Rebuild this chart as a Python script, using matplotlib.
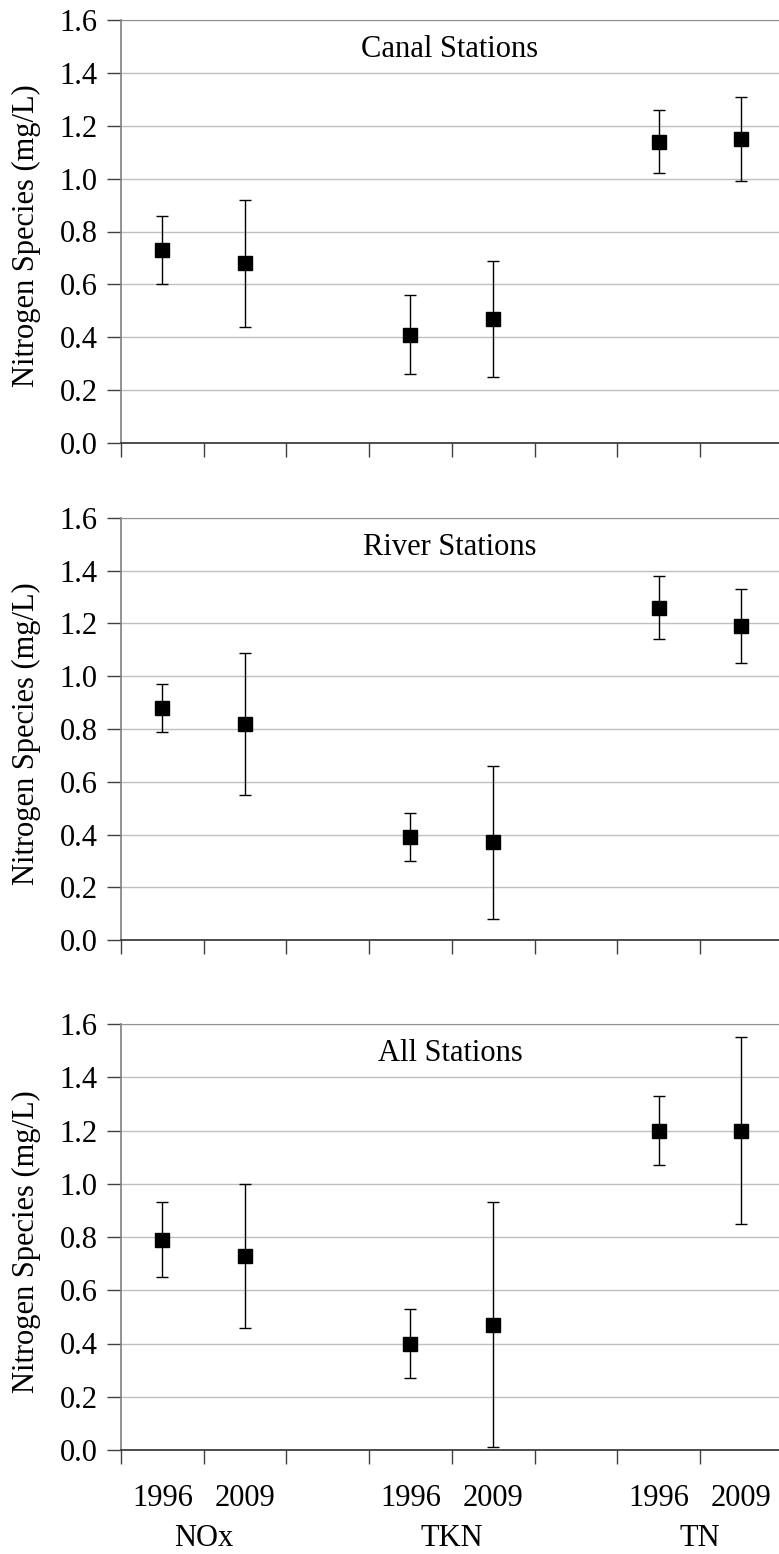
import matplotlib
matplotlib.use("Agg")
import matplotlib.pyplot as plt
import matplotlib.transforms as mtransforms
import numpy as np

plt.rcParams['font.family'] = ['Liberation Serif', 'DejaVu Serif']

# Data
species = ["NOx", "TKN", "TN"]
years = ["1996", "2009"]
panel_titles = ["Canal Stations", "River Stations", "All Stations"]
x_positions = [0.5, 1.5, 3.5, 4.5, 6.5, 7.5]

canal_mean = [0.73, 0.68, 0.41, 0.47, 1.14, 1.15]
canal_low = [0.60, 0.44, 0.26, 0.25, 1.02, 0.99]
canal_high = [0.86, 0.92, 0.56, 0.69, 1.26, 1.31]

river_mean = [0.88, 0.82, 0.39, 0.37, 1.26, 1.19]
river_low = [0.79, 0.55, 0.30, 0.08, 1.14, 1.05]
river_high = [0.97, 1.09, 0.48, 0.66, 1.38, 1.33]

all_mean = [0.79, 0.73, 0.40, 0.47, 1.20, 1.20]
all_low = [0.65, 0.46, 0.27, 0.01, 1.07, 0.85]
all_high = [0.93, 1.00, 0.53, 0.93, 1.33, 1.55]

yticks = [0.0, 0.2, 0.4, 0.6, 0.8, 1.0, 1.2, 1.4, 1.6]
ylabel = "Nitrogen Species (mg/L)"

panels = [
    (canal_mean, canal_low, canal_high),
    (river_mean, river_low, river_high),
    (all_mean, all_low, all_high),
]

FS = 22
W, H = 779, 1554
fig = plt.figure(figsize=(W / 100, H / 100), dpi=100)

# pixel geometry: (top_px, bottom_px)
geoms = [(20, 443), (518, 940), (1024, 1450)]
left_px = 121
tick_step = 82.7
xmax = (W - left_px) / tick_step
axw = W - left_px

axes = []
for (top, bot), (m, lo, hi), title in zip(geoms, panels, panel_titles):
    ax = fig.add_axes([left_px / W, 1 - bot / H, 1 - left_px / W, (bot - top) / H])
    axes.append(ax)
    m = np.array(m)
    lo = np.array(lo)
    hi = np.array(hi)
    yerr = np.vstack([m - lo, hi - m])
    ax.errorbar(x_positions, m, yerr=yerr, fmt="s", color="black",
                ecolor="black", elinewidth=1.0, capsize=4.5, capthick=1.0,
                markersize=9.5, zorder=3)
    ax.set_xlim(0, xmax)
    ax.set_ylim(0, 1.6)
    ax.set_yticks(yticks)
    ax.set_yticklabels([f"{v:.1f}" for v in yticks], fontsize=FS)
    ax.set_xticks(np.arange(0, 8))
    ax.set_xticklabels([])
    ax.tick_params(axis="y", direction="out", length=10, width=1.0,
                   color="#404040", pad=7)
    ax.tick_params(axis="x", direction="out", length=10, width=1.0,
                   color="#404040")
    ax.yaxis.grid(True, color="#c0c0c0", linewidth=1.0)
    ax.set_axisbelow(True)
    ax.spines["right"].set_visible(False)
    ax.spines["top"].set_color("#909090")
    ax.spines["left"].set_color("#808080")
    ax.spines["left"].set_linewidth(1.2)
    ax.spines["bottom"].set_color("#303030")
    ax.spines["bottom"].set_linewidth(1.2)
    ax.text(0.5, 0.93, title, transform=ax.transAxes, ha="center",
            va="center", fontsize=FS)
    ax.set_ylabel(ylabel, fontsize=FS)
    ax.yaxis.set_label_coords((41 - left_px) / axw, 0.49)

# bottom labels
ax = axes[-1]
trans = mtransforms.blended_transform_factory(ax.transData, ax.transAxes)
for i, x in enumerate(x_positions):
    ax.text(x, -0.115, years[i % 2], transform=trans, ha="center",
            va="center", fontsize=FS)
for j, sp in enumerate(species):
    ax.text(1.0 + 3 * j, -0.207, sp, transform=trans, ha="center",
            va="center", fontsize=FS)

fig.savefig("out.png", dpi=100)
